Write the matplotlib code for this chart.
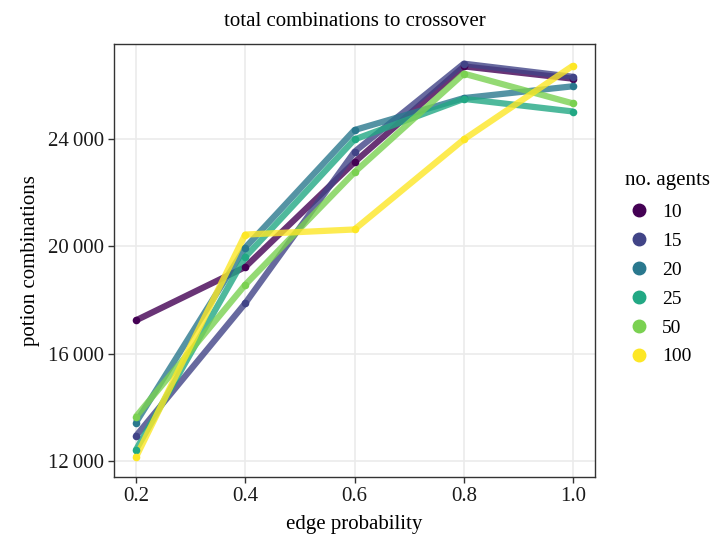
import matplotlib
matplotlib.use("Agg")
import matplotlib.pyplot as plt
from matplotlib.ticker import FuncFormatter
from matplotlib.lines import Line2D
import numpy as np

edge_prob = [0.2, 0.4, 0.6, 0.8, 1.0]
agents = ["10", "15", "20", "25", "50", "100"]
vals_10 = [17245, 19230, 23135, 26700, 26240]
vals_15 = [12940, 17880, 23520, 26800, 26310]
vals_20 = [13440, 19950, 24330, 25520, 25960]
vals_25 = [12420, 19600, 23980, 25490, 25020]
vals_50 = [13660, 18570, 22760, 26430, 25320]
vals_100 = [12150, 20440, 20630, 23980, 26730]
series = [vals_10, vals_15, vals_20, vals_25, vals_50, vals_100]
yticks = [12000, 16000, 20000, 24000]
xticks = [0.2, 0.4, 0.6, 0.8, 1.0]

colors = ["#440154", "#414487", "#2A788E", "#22A884", "#7AD151", "#FDE725"]

plt.rcParams['font.family'] = ['Liberation Serif', 'DejaVu Serif']

fig = plt.figure(figsize=(7.13, 5.44), dpi=100)
ax = fig.add_axes([114/713, 1-477/544, (595-114)/713, (477-44)/544])

for vals, c in zip(series, colors):
    ax.plot(edge_prob, vals, color=c, lw=4.5, alpha=0.8, solid_capstyle='butt', zorder=2)
    ax.scatter(edge_prob, vals, color=c, s=30, zorder=3, linewidths=0)

allv = np.concatenate([np.array(s) for s in series])
lo, hi = allv.min(), allv.max()
pad = (hi - lo) * 0.05
ax.set_ylim(lo - pad, hi + pad)
ax.set_xlim(0.16, 1.04)
ax.set_xticks(xticks)
ax.set_yticks(yticks)
ax.xaxis.set_major_formatter(FuncFormatter(lambda v, p: f"{v:.1f}"))
ax.yaxis.set_major_formatter(FuncFormatter(lambda v, p: f"{int(v):,}".replace(",", "\u2009")))
ax.grid(True, color="#EBEBEB", lw=1.2, zorder=0)
ax.set_axisbelow(True)
for s in ax.spines.values():
    s.set_color("#333333")
    s.set_linewidth(1.0)
ax.tick_params(axis='both', direction='out', length=4, width=1, color="#333333",
               labelsize=15, labelcolor="#1A1A1A", pad=3)
ax.set_xlabel("edge probability", fontsize=15, labelpad=7)
ax.set_ylabel("potion combinations", fontsize=15, labelpad=6)
ax.set_title("total combinations to crossover", fontsize=15, pad=13)

handles = [Line2D([], [], marker='o', ls='', color=c, markersize=9) for c in colors]
leg = fig.legend(handles, agents, title="no. agents", loc='center left',
                 bbox_to_anchor=(617/713, 1-268/544), frameon=False, fontsize=14,
                 title_fontsize=15, handletextpad=0.4, labelspacing=0.58, alignment='left',
                 borderaxespad=0, handlelength=1.5)
leg._legend_box.sep = 10

fig.savefig("out.png", dpi=100)
